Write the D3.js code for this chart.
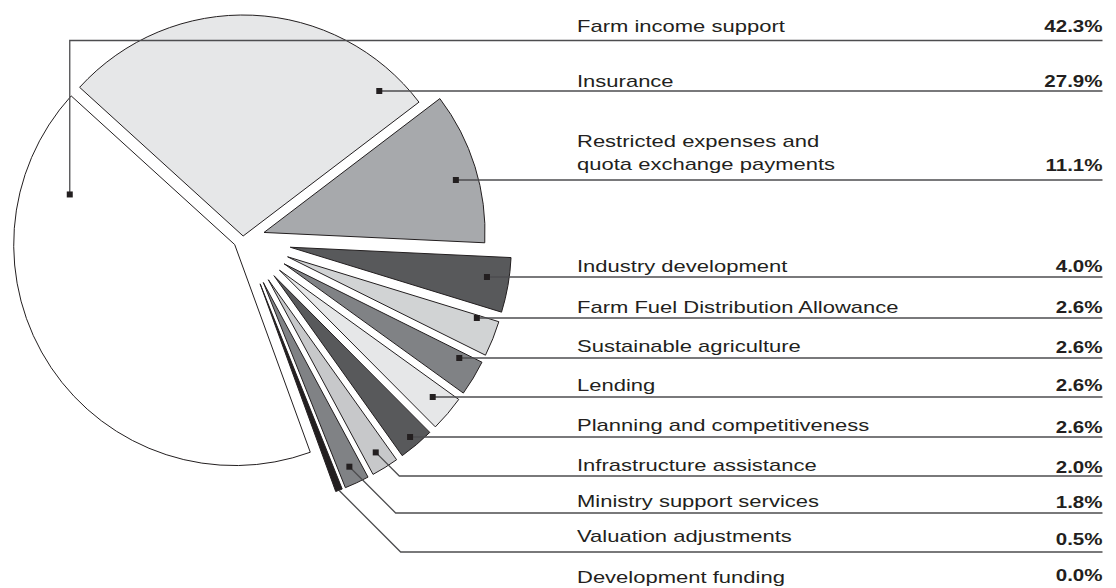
<!DOCTYPE html>
<html>
<head>
<meta charset="utf-8">
<script src="https://cdn.jsdelivr.net/npm/d3@7/dist/d3.min.js"></script>
<style>
  html, body { margin: 0; padding: 0; background: #ffffff; }
  svg { display: block; }
  text { font-family: "Liberation Sans", Arial, Helvetica, sans-serif; fill: #231f20; }
</style>
</head>
<body>
<svg id="chart" width="1116" height="588"></svg>
<script>
// ---- data -------------------------------------------------------------
const categories = [
  "Farm income support",
  "Insurance",
  "Restricted expenses and|quota exchange payments",
  "Industry development",
  "Farm Fuel Distribution Allowance",
  "Sustainable agriculture",
  "Lending",
  "Planning and competitiveness",
  "Infrastructure assistance",
  "Ministry support services",
  "Valuation adjustments",
  "Development funding"
];
const shares = [42.3, 27.9, 11.1, 4.0, 2.6, 2.6, 2.6, 2.6, 2.0, 1.8, 0.5, 0.0];
const fills = ["#ffffff", "#e6e7e8", "#a7a9ac", "#58595b", "#d1d3d4", "#808285",
               "#e6e7e8", "#58595b", "#c7c8ca", "#808285", "#231f20", "#bcbec0"];

// ---- layout -----------------------------------------------------------
const W = 1116, H = 588;
const cx = 243, cy = 239, R = 221;
const startDeg = 160;
const labelX = 577, rightX = 1102.5;
const fontSize = 17.4;
const labelStretch = 1.265, valueStretch = 1.18;
const lineGap = 23.4;
// baselines of the label and value texts, and the y of each rule / leader line
const labelBaseline = [31.5, 87, 170, 271.5, 312.5, 352, 390.5, 430.5, 470.5, 507, 542, 582.5];
const valueBaseline = [31.7, 87.3, 171, 271.7, 312.7, 353.3, 390.7, 432.5, 473, 508.3, 544.5, 580.5];
const ruleY = [40.5, 91, 180, 277, 318, 358, 397, 437, 476, 513, 552, null];

const rad = deg => deg * Math.PI / 180;
const TAU = 2 * Math.PI;
const fmt = d3.format(".1f");

const data = categories.map((c, i) => ({ name: c, value: shares[i], fill: fills[i], i }));

const pie = d3.pie()
  .sort(null)
  .value(d => d.value)
  .startAngle(rad(startDeg))
  .endAngle(rad(startDeg) + TAU);

const arcs = pie(data);
const arc = d3.arc().innerRadius(0).outerRadius(R);

// how far each wedge is pulled out from the centre
const pull = v => v >= 40 ? 10 : v >= 20 ? 3 : v >= 10 ? 22 : 48;

const svg = d3.select("#chart");
const gPie = svg.append("g").attr("transform", `translate(${cx},${cy})`);

arcs.forEach(a => {
  const mid = (a.startAngle + a.endAngle) / 2;
  const p = pull(a.data.value);
  a.ox = p * Math.sin(mid);
  a.oy = -p * Math.cos(mid);
});

gPie.selectAll("path.slice")
  .data(arcs.filter(a => a.data.value > 0))
  .join("path")
  .attr("class", "slice")
  .attr("transform", a => `translate(${a.ox},${a.oy})`)
  .attr("d", arc)
  .attr("fill", a => a.data.fill)
  .attr("stroke", "#231f20")
  .attr("stroke-width", 1)
  .attr("stroke-linejoin", "miter");

// ---- leaders ----------------------------------------------------------
const gLead = svg.append("g");
const polar = (ax, ay, r, t) => [ax + r * Math.sin(t), ay - r * Math.cos(t)];

arcs.forEach(a => {
  const i = a.data.i;
  if (a.data.value <= 0 || ruleY[i] == null) return;
  const ax = cx + a.ox, ay = cy + a.oy;
  const span = a.endAngle - a.startAngle;
  const mid = (a.startAngle + a.endAngle) / 2;
  const yLine = ruleY[i];
  let marker, pts;

  if (Math.sin(mid) < 0) {
    // left-hand wedge: marker inside, leader rises and runs across the top
    const t = a.endAngle - span / 6;
    marker = polar(ax, ay, R * 0.78, t);
    pts = [marker, [marker[0], yLine], [rightX, yLine]];
  } else {
    const rho = R * 0.9;
    const thin = span * rho < 8;
    const dy = yLine - ay;
    if (thin) {
      // too narrow for a marker: leader starts at the rim
      marker = polar(ax, ay, R, mid);
    } else {
      // where the rule's y meets the marker circle, if that lies inside the wedge
      let t = Math.abs(dy) < rho ? Math.atan2(Math.sqrt(rho * rho - dy * dy), -dy)
                                 : (dy > 0 ? Math.PI : 0);
      t += TAU * Math.round((mid - t) / TAU);
      const m = Math.min(0.05 * span, rad(5));
      if (t >= a.startAngle + m && t <= a.endAngle - m) {
        marker = polar(ax, ay, rho, t);
      } else {
        // otherwise sit on the bisector, reaching the rule if the wedge is long enough
        const c = -Math.cos(mid);
        const reach = c > 0 ? dy / c : Infinity;
        marker = (reach >= 0.85 * R && reach <= 0.96 * R)
          ? polar(ax, ay, reach, mid)
          : polar(ax, ay, R * 0.92, mid);
      }
    }
    const dyM = yLine - marker[1];
    if (Math.abs(dyM) < 0.75) {
      pts = [marker, [rightX, marker[1]]];
    } else {
      pts = [marker, [marker[0] + Math.abs(dyM), yLine], [rightX, yLine]];
    }
    a.thin = thin;
  }
  a.marker = marker;

  gLead.append("path")
    .attr("d", d3.line()(pts))
    .attr("fill", "none")
    .attr("stroke", "#4d4d4f")
    .attr("stroke-width", 1.3);
});

// markers
svg.append("g").selectAll("rect")
  .data(arcs.filter(a => a.marker && !a.thin))
  .join("rect")
  .attr("x", a => a.marker[0] - 3)
  .attr("y", a => a.marker[1] - 3)
  .attr("width", 6)
  .attr("height", 6)
  .attr("fill", "#231f20");

// ---- labels -----------------------------------------------------------
const gText = svg.append("g");
data.forEach((d, i) => {
  const lines = d.name.split("|");
  const y0 = labelBaseline[i] - (lines.length - 1) * lineGap;
  const t = gText.append("text")
    .attr("transform", `translate(${labelX},${y0}) scale(${labelStretch},1)`)
    .attr("font-size", fontSize);
  lines.forEach((ln, k) => {
    t.append("tspan").attr("x", 0).attr("y", k * lineGap).text(ln);
  });
  gText.append("text")
    .attr("transform", `translate(${rightX},${valueBaseline[i]}) scale(${valueStretch},1)`)
    .attr("text-anchor", "end")
    .attr("font-size", fontSize)
    .attr("font-weight", "bold")
    .text(fmt(d.value) + "%");
});
</script>
</body>
</html>
